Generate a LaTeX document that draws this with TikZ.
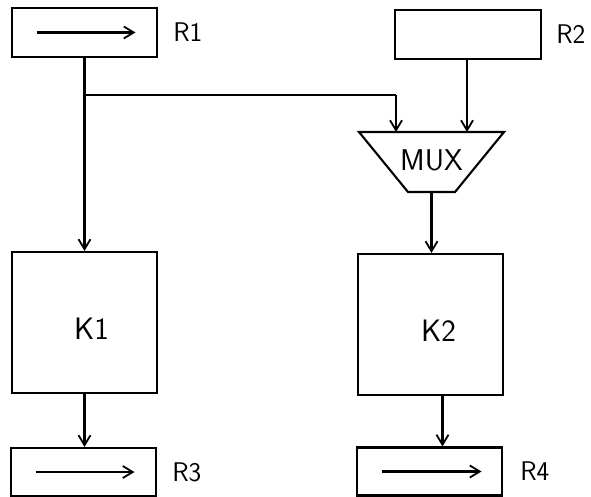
\documentclass[tikz,border=0pt]{standalone}
\usepackage{tikz}
\usetikzlibrary{arrows.meta, positioning}

\tikzset{
    >={Straight Barb[length=10pt, width=12pt, line width=1.8pt]},
    reg/.style={draw, line width=2.1pt, minimum width=145pt, minimum height=49pt, inner sep=0pt},
    proc/.style={draw, line width=2.1pt, minimum width=145pt, minimum height=141pt, inner sep=0pt},
    regname/.style={font=\sffamily\fontsize{27}{31}\selectfont, inner sep=0pt},
    procname/.style={font=\sffamily\fontsize{31}{35}\selectfont, inner sep=0pt},
    wire/.style={->, line width=2.1pt},
}

\begin{document}
\begin{tikzpicture}[x=1pt, y=-1pt]
        \useasboundingbox (0,0) rectangle (591,497);

        % registers on top
        \node[reg] (r1) at (84.5,32.5) {};
        \node[regname, right=15pt] (r1name) at (r1.east) {R1};
        \draw[wire] ([xshift=-48pt]r1.center) -- ([xshift=51pt]r1.center);

        \node[reg, minimum width=146pt] (r2) at (468,34.5) {};
        \node[regname, right=14pt] (r2name) at (r2.east) {R2};

        % multiplexer
        \coordinate (muxtl) at (359,132);
        \coordinate (muxtr) at (504,132);
        \coordinate (muxbr) at (455,192);
        \coordinate (muxbl) at (408,192);
        \draw[line width=2.1pt, line join=miter] (muxtl) -- (muxtr) -- (muxbr) -- (muxbl) -- cycle;
        \node[font=\sffamily\fontsize{30}{34}\selectfont, inner sep=0pt] (mux) at (431.5,160) {MUX};
        \coordinate (muxout) at (431.5,192);

        % combinational blocks
        \node[proc] (k1) at (84.5,322.5) {};
        \node[procname] (k1name) at ([xshift=7pt,yshift=-6pt]k1.center) {K1};
        \node[proc] (k2) at (430.5,324.5) {};
        \node[procname] (k2name) at ([xshift=8pt,yshift=-6pt]k2.center) {K2};

        % registers at the bottom
        \node[reg, minimum height=48pt] (r3) at (83.5,472) {};
        \node[regname, right=15pt] (r3name) at (r3.east) {R3};
        \draw[wire] ([xshift=-48pt]r3.center) -- ([xshift=51pt]r3.center);

        \node[reg, minimum height=48pt] (r4) at (429.5,471.5) {};
        \node[regname, right=17pt] (r4name) at (r4.east) {R4};
        \draw[wire] ([xshift=-48pt]r4.center) -- ([xshift=52pt]r4.center);

        % wiring
        \coordinate (tap) at (84.5,95);
        \coordinate (bend) at (396,95);
        \draw[wire] (r1.south) -- (r1.south |- k1.north);
        \draw[line width=2.1pt] (tap) -- (bend);
        \draw[wire] (bend) -- (bend |- muxtl);
        \draw[wire] ([xshift=-1pt]r2.south) -- ([xshift=-1pt]r2.south |- muxtl);
        \draw[wire] (muxout) -- (muxout |- k2.north);
        \draw[wire] (k1.south) -- (k1.south |- r3.north);
        \draw[wire] ([xshift=12pt]k2.south) -- ([xshift=12pt]k2.south |- r4.north);
    \end{tikzpicture}
\end{document}
